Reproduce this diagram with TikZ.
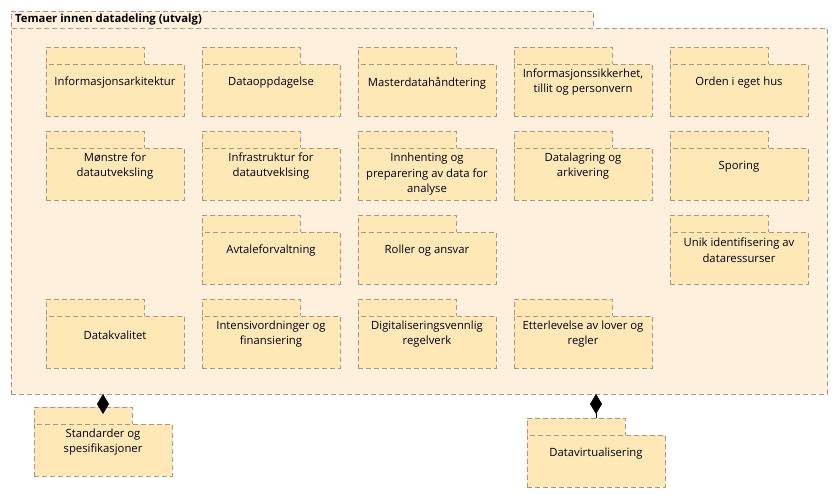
\documentclass[tikz,border=0pt]{standalone}
\usepackage{fontspec}
\setmainfont{Open Sans}
\usetikzlibrary{arrows.meta}
\definecolor{outerfill}{RGB}{255,240,221}
\definecolor{pkgfill}{RGB}{253,232,182}
\definecolor{pkgline}{RGB}{168,152,130}
\tikzset{
  pkgshape/.style={draw=pkgline, fill=pkgfill, line width=1pt, dash pattern=on 5pt off 3pt, inner sep=0pt, outer sep=0pt},
  outershape/.style={draw=pkgline, fill=outerfill, line width=1pt, dash pattern=on 5pt off 3pt, inner sep=0pt, outer sep=0pt},
  lbl/.style={align=center, inner sep=0pt, font=\fontsize{11.3}{15.5}\selectfont, text=black!90!blue},
  compose/.style={draw=black, line width=1pt, {Diamond[length=20pt,width=12pt,fill=black]}-},
}
% \pkgbox{name}{x of left edge}{y of tab top}{text}{y offset of text centre below body top}
\newcommand{\pkgbox}[5]{%
  \node[pkgshape, minimum width=98pt, minimum height=17pt, anchor=north west] (#1-tab) at (#2,#3) {};
  \node[pkgshape, minimum width=138pt, minimum height=52pt, anchor=north west] (#1) at (#2,#3+17) {};
  \node[lbl] (#1-txt) at ([yshift=-#5pt]#1.north) {#4};
}
\begin{document}
\begin{tikzpicture}[x=1pt,y=-1pt]
\useasboundingbox (0,0) rectangle (837,499);
% outer package
\node[outershape, minimum width=582pt, minimum height=17pt, anchor=north west] (outer-tab) at (11,11) {};
\node[outershape, minimum width=816pt, minimum height=366pt, anchor=north west] (outer) at (11,28) {};
\node[anchor=west, inner sep=0pt, font=\fontsize{11.3}{14}\selectfont\bfseries] (outer-title) at (15,19.5) {Temaer innen datadeling (utvalg)};
% row 1
\pkgbox{p11}{46}{47}{Informasjonsarkitektur}{19}
\pkgbox{p12}{202}{47}{Dataoppdagelse}{19}
\pkgbox{p13}{358}{47}{Masterdatahåndtering}{19}
\pkgbox{p14}{514}{47}{Informasjonssikkerhet,\\tillit og personvern}{18}
\pkgbox{p15}{670}{47}{Orden i eget hus}{19}
% row 2
\pkgbox{p21}{46}{131}{Mønstre for\\datautveksling}{18}
\pkgbox{p22}{202}{131}{Infrastruktur for\\datautveklsing}{18}
\pkgbox{p23}{358}{131}{Innhenting og\\preparering av data for\\analyse}{26.5}
\pkgbox{p24}{514}{131}{Datalagring og\\arkivering}{18}
\pkgbox{p25}{670}{131}{Sporing}{19}
% row 3
\pkgbox{p32}{202}{215}{Avtaleforvaltning}{19}
\pkgbox{p33}{358}{215}{Roller og ansvar}{19}
\pkgbox{p35}{670}{215}{Unik identifisering av\\dataressurser}{18}
% row 4
\pkgbox{p41}{46}{299}{Datakvalitet}{19}
\pkgbox{p42}{202}{299}{Intensivordninger og\\finansiering}{18}
\pkgbox{p43}{358}{299}{Digitaliseringsvennlig\\regelverk}{18}
\pkgbox{p44}{514}{299}{Etterlevelse av lover og\\regler}{18}
% outside packages
\pkgbox{std}{34}{407}{Standarder og\\spesifikasjoner}{18}
\pkgbox{virt}{527}{418}{Datavirtualisering}{19}
% composition connectors
\coordinate (c-std) at (outer.south -| std.north);
\coordinate (c-virt) at (outer.south -| virt.north);
\coordinate (e-std) at (std-tab.north -| std.north);
\coordinate (e-virt) at (virt-tab.north -| virt.north);
\draw[compose] (c-std) -- (e-std);
\draw[compose] (c-virt) -- (e-virt);
\end{tikzpicture}
\end{document}
